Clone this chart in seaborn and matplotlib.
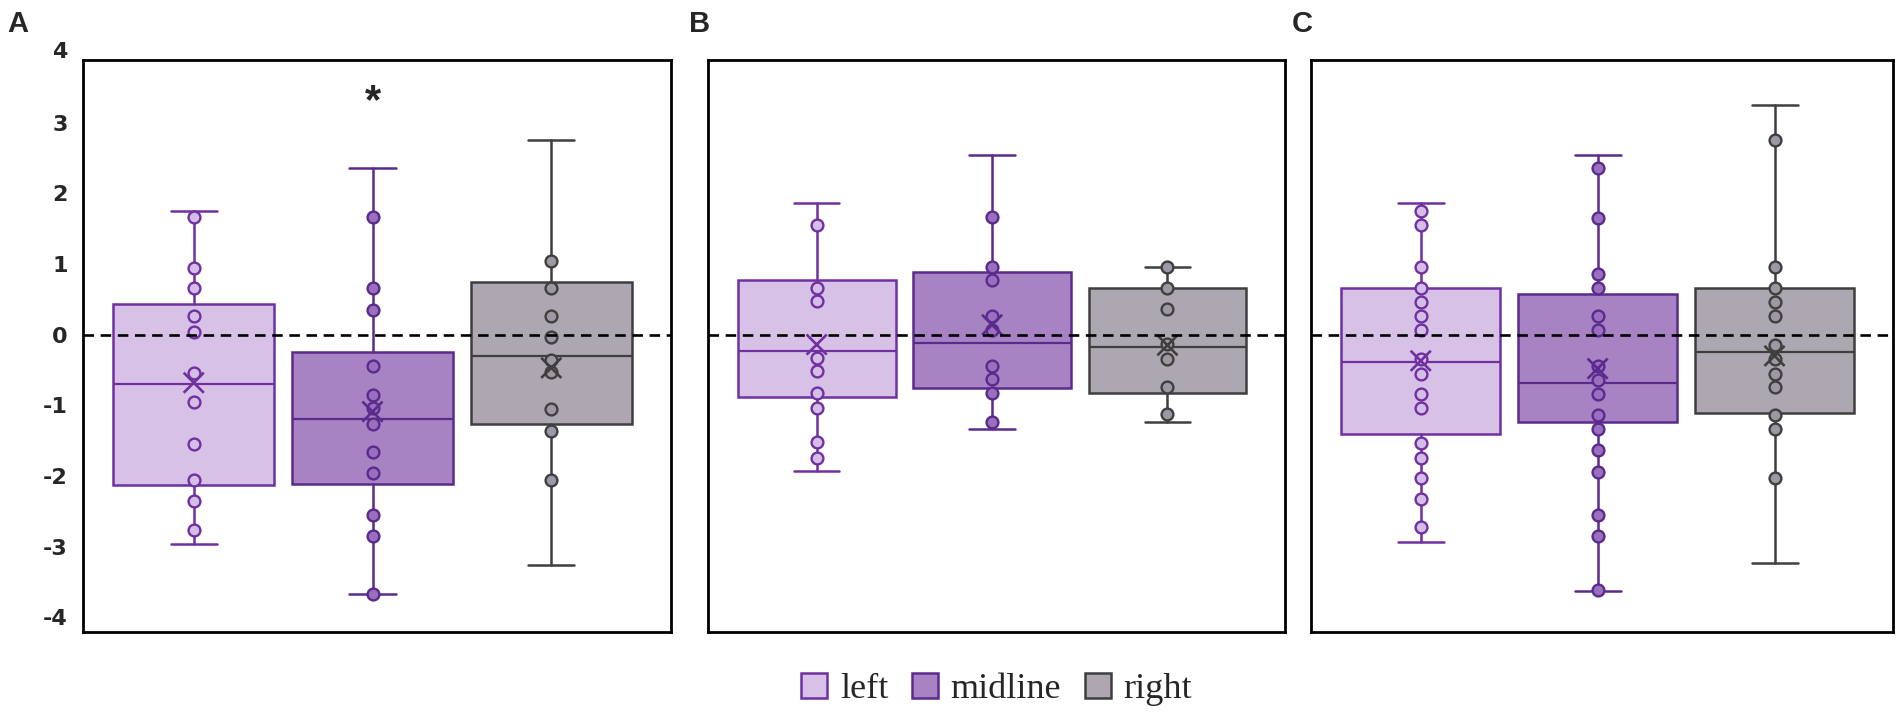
import matplotlib
matplotlib.use("Agg")
import matplotlib.pyplot as plt
import matplotlib.transforms as mtransforms
from matplotlib.patches import Patch
import numpy as np
import pandas as pd
import seaborn as sns

groups = ["left", "midline", "right"]
panel_labels = ["A", "B", "C"]

# individual values
a_left = [1.66, 0.95, 0.66, 0.26, 0.04, -0.54, -0.95, -1.55, -2.06, -2.36, -2.77]
a_mid = [1.66, 0.66, 0.35, -0.45, -0.85, -1.04, -1.26, -1.66, -1.96, -2.56, -2.85, -3.67]
a_right = [1.05, 0.66, 0.26, -0.03, -0.36, -0.53, -1.05, -1.36, -2.06]

b_left = [1.56, 0.66, 0.47, -0.33, -0.52, -0.82, -1.04, -1.52, -1.74]
b_mid = [1.66, 0.96, 0.77, 0.26, 0.07, -0.44, -0.63, -0.82, -1.23]
b_right = [0.96, 0.66, 0.36, -0.13, -0.34, -0.74, -1.13]

c_left = [1.75, 1.56, 0.96, 0.66, 0.46, 0.26, 0.06, -0.34, -0.55, -0.84, -1.04,
          -1.54, -1.74, -2.03, -2.33, -2.73]
c_mid = [2.36, 1.65, 0.86, 0.66, 0.26, 0.06, -0.44, -0.64, -0.84, -1.14, -1.34,
         -1.63, -1.94, -2.55, -2.85, -3.62]
c_right = [2.75, 0.96, 0.66, 0.46, 0.26, -0.15, -0.34, -0.55, -0.74, -1.14, -1.34, -2.03]

# box summaries (left, midline, right)
a_lo = [-2.96, -3.67, -3.26]
a_q1 = [-2.13, -2.11, -1.26]
a_med = [-0.70, -1.20, -0.30]
a_q3 = [0.44, -0.25, 0.75]
a_hi = [1.75, 2.36, 2.75]
a_mean = [-0.68, -1.09, -0.47]

b_lo = [-1.93, -1.33, -1.24]
b_q1 = [-0.88, -0.75, -0.83]
b_med = [-0.23, -0.12, -0.18]
b_q3 = [0.78, 0.89, 0.66]
b_hi = [1.86, 2.55, 0.96]
b_mean = [-0.14, 0.14, -0.15]

c_lo = [-2.93, -3.63, -3.23]
c_q1 = [-1.40, -1.24, -1.11]
c_med = [-0.39, -0.69, -0.24]
c_q3 = [0.66, 0.57, 0.66]
c_hi = [1.86, 2.55, 3.25]
c_mean = [-0.37, -0.48, -0.30]

y_ticks = [-4, -3, -2, -1, 0, 1, 2, 3]

fills = ["#D7C1E6", "#A883C4", "#ADA7B1"]
edges = ["#7030A0", "#5A2A8C", "#3F3F3F"]
dot_fills = ["#D5BEE6", "#9A6FBE", "#9D98A2"]

sns.set_style("white")
plt.rcParams["font.family"] = ["Liberation Sans", "DejaVu Sans"]


def draw_panel(ax, points, lo, q1, med, q3, hi, mean):
    stats = []
    for i, g in enumerate(groups):
        stats.append(dict(label=g, whislo=lo[i], q1=q1[i], med=med[i], q3=q3[i],
                          whishi=hi[i], fliers=[]))
    bp = ax.bxp(stats, positions=range(3), widths=0.9, capwidths=0.26,
                patch_artist=True, showfliers=False, manage_ticks=False, zorder=2)
    for i in range(3):
        box = bp["boxes"][i]
        box.set_facecolor(fills[i])
        box.set_edgecolor(edges[i])
        box.set_linewidth(1.8)
        bp["medians"][i].set_color(edges[i])
        bp["medians"][i].set_linewidth(1.6)
        for ln in bp["whiskers"][2 * i:2 * i + 2] + bp["caps"][2 * i:2 * i + 2]:
            ln.set_color(edges[i])
            ln.set_linewidth(1.8)

    df = pd.DataFrame({"group": np.repeat(groups, [len(p) for p in points]),
                       "value": np.concatenate(points)})
    for i, g in enumerate(groups):
        sns.stripplot(data=df[df.group == g], x="group", y="value", order=groups,
                      jitter=False, size=8.5, color=dot_fills[i], edgecolor=edges[i],
                      linewidth=1.7, ax=ax, zorder=3)

    ax.scatter(range(3), mean, marker="x", s=210, c=edges, linewidths=1.9, zorder=4)
    ax.axhline(0, color="black", ls=(0, (4, 2.5)), lw=1.9, zorder=5)

    ax.set_xlim(-0.62, 2.67)
    ax.set_ylim(-4.21, 3.89)
    ax.set_xticks([])
    ax.set_xlabel("")
    ax.set_ylabel("")
    for sp in ax.spines.values():
        sp.set_visible(True)
        sp.set_color("black")
        sp.set_linewidth(2.0)


fig = plt.figure(figsize=(19.02, 7.15), dpi=100)
bottom, height = 0.1161, 0.8000
ax_a = fig.add_axes([0.0436, bottom, 0.3092, height])
ax_b = fig.add_axes([0.3722, bottom, 0.3034, height])
ax_c = fig.add_axes([0.6893, bottom, 0.3060, height])

draw_panel(ax_a, [a_left, a_mid, a_right], a_lo, a_q1, a_med, a_q3, a_hi, a_mean)
draw_panel(ax_b, [b_left, b_mid, b_right], b_lo, b_q1, b_med, b_q3, b_hi, b_mean)
draw_panel(ax_c, [c_left, c_mid, c_right], c_lo, c_q1, c_med, c_q3, c_hi, c_mean)

tick_font = dict(family=["DejaVu Sans"], weight="bold", size=16)
ax_a.set_yticks(y_ticks)
ax_a.set_yticklabels([str(t) for t in y_ticks], **tick_font)
ax_a.tick_params(axis="y", length=0, pad=11)
# top label sits just above the frame
off = mtransforms.offset_copy(ax_a.get_yaxis_transform(), fig=fig, x=-11, units="points")
ax_a.text(0, 4, "4", transform=off, ha="right", va="center", clip_on=False, **tick_font)

for ax in (ax_b, ax_c):
    ax.set_yticks([])

ax_a.text(1, 3.3, "*", ha="center", va="center", fontsize=30, fontweight="bold")

for lab, x in zip(panel_labels, [0.004, 0.362, 0.679]):
    fig.text(x, 0.966, lab, ha="left", va="center", fontsize=21, fontweight="bold")

handles = [Patch(facecolor=fills[i], edgecolor=edges[i], linewidth=1.8, label=g)
           for i, g in enumerate(groups)]
fig.legend(handles=handles, loc="center", bbox_to_anchor=(0.524, 0.036), ncol=3,
           frameon=False, prop=dict(family="Liberation Serif", size=26),
           handlelength=0.72, handleheight=0.72, handletextpad=0.35, columnspacing=0.65)

fig.savefig("out.png", dpi=100)
